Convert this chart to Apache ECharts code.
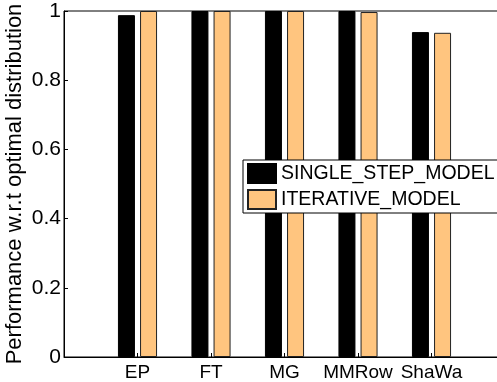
<!DOCTYPE html>
<html>
<head>
<meta charset="utf-8">
<script src="https://cdn.jsdelivr.net/npm/echarts@6/dist/echarts.min.js"></script>
<style>html,body{margin:0;padding:0;background:#fff;}#c{width:497px;height:382px;}</style>
</head>
<body>
<div id="c"></div>
<script>
const categories = ['EP', 'FT', 'MG', 'MMRow', 'ShaWa'];
const singleStep = [0.988, 1.0, 1.0, 1.0, 0.939];
const iterative = [1.0, 1.0, 1.0, 0.997, 0.937];
const yTicks = [0, 0.2, 0.4, 0.6, 0.8, 1];

// pad with empty slots at both ends (axis spans 0..6 like the original)
const cats = [''].concat(categories, ['']);
const pad = a => [null].concat(a, [null]);

const font = "'Liberation Sans', Arial, sans-serif";
const chart = echarts.init(document.getElementById('c'), null, {renderer: 'canvas'});
chart.setOption({
  animation: false,
  backgroundColor: '#fff',
  grid: {left: 64, top: 11, width: 441, height: 346, outerBoundsMode: 'none', containLabel: false,
         show: true, borderColor: '#000', borderWidth: 1, backgroundColor: 'transparent'},
  legend: {
    orient: 'vertical', left: 243, top: 160,
    backgroundColor: '#fff', borderColor: '#000', borderWidth: 1,
    padding: [3, 30, 3, 4], itemGap: 5, itemWidth: 28, itemHeight: 19,
    icon: 'rect',
    textStyle: {fontFamily: font, fontSize: 19.5, color: '#000'},
    data: ['SINGLE_STEP_MODEL', 'ITERATIVE_MODEL']
  },
  xAxis: {
    type: 'category', data: cats, boundaryGap: false,
    axisLine: {lineStyle: {color: '#000', width: 1}},
    axisTick: {inside: true, length: 4, lineStyle: {color: '#000'}},
    axisLabel: {fontFamily: font, fontSize: 19, color: '#000', margin: 6, interval: 0, hideOverlap: false},
    splitLine: {show: false}
  },
  yAxis: {
    type: 'value', min: 0, max: 1, interval: 0.2,
    name: 'Performance w.r.t optimal distribution', nameLocation: 'middle', nameRotate: 90, nameGap: 38,
    nameMoveOverlap: false,
    nameTextStyle: {fontFamily: font, fontSize: 22, color: '#000'},
    axisLine: {show: true, lineStyle: {color: '#000', width: 1}},
    axisTick: {show: true, inside: true, length: 4, lineStyle: {color: '#000'}},
    axisLabel: {fontFamily: font, fontSize: 21, color: '#000', margin: 3,
      formatter: v => (yTicks.indexOf(Math.round(v*10)/10) >= 0 ? String(Math.round(v*10)/10) : '')},
    splitLine: {show: false}
  },
  series: [
    {name: 'SINGLE_STEP_MODEL', type: 'bar', data: pad(singleStep), barWidth: 17, barGap: '30%',
     itemStyle: {color: '#000', borderColor: '#000', borderWidth: 1}},
    {name: 'ITERATIVE_MODEL', type: 'bar', data: pad(iterative), barWidth: 17,
     itemStyle: {color: '#FFC57F', borderColor: '#222', borderWidth: 1}}
  ]
});
</script>
</body>
</html>
